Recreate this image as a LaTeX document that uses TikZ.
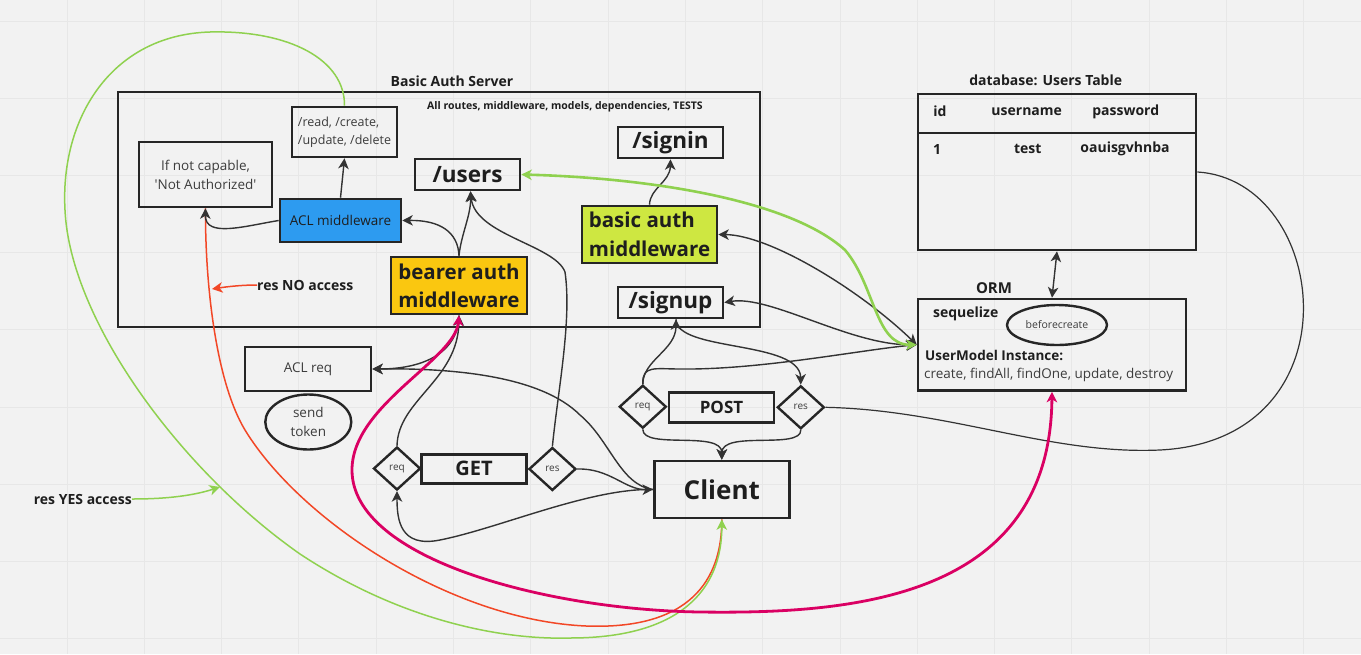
\documentclass[tikz,border=0pt]{standalone}
\usepackage{fontspec}
\setmainfont{Open Sans}
\usetikzlibrary{arrows.meta,shapes.geometric}
\definecolor{bg}{HTML}{F2F2F2}
\definecolor{gridc}{HTML}{E7E7E7}
\definecolor{bdr}{HTML}{262626}
\definecolor{lnc}{HTML}{333333}
\definecolor{txtb}{HTML}{1E1E1E}
\definecolor{txtn}{HTML}{3C3C3C}
\definecolor{aclblue}{HTML}{2D9BF0}
\definecolor{bearery}{HTML}{FAC710}
\definecolor{basicg}{HTML}{CEE741}
\definecolor{mgreen}{HTML}{8FD14F}
\definecolor{mred}{HTML}{F24726}
\definecolor{mmag}{HTML}{DA0063}
\newcommand\myfs[2]{\fontsize{#1}{#2}\selectfont}
\tikzset{
  box/.style={draw=bdr, line width=2.6pt, inner sep=0pt, text=txtn},
  diam/.style={diamond, draw=bdr, line width=2.4pt, inner sep=0pt, minimum width=47pt, minimum height=43pt, text=txtn, font=\myfs{10}{12}},
  lbl/.style={inner sep=0pt, text=txtb, font=\myfs{14}{17}\bfseries},
  conn/.style={draw=lnc, line width=1.4pt},
  gconn/.style={draw=mgreen, line width=1.5pt},
  gthick/.style={draw=mgreen, line width=2.6pt},
  rconn/.style={draw=mred, line width=1.5pt},
  mconn/.style={draw=mmag, line width=2.8pt},
}
\begin{document}
\begin{tikzpicture}[x=1pt,y=-1pt,>={Stealth[length=10.5pt,width=10.5pt,inset=3pt]}]
\useasboundingbox (0,0) rectangle (1361,654);
\fill[bg] (0,0) rectangle (1361,654);
\foreach \i in {0,...,16} \draw[gridc, line width=1pt] ({67+77.3*\i},0) -- ({67+77.3*\i},654);
\foreach \j in {0,...,8} \draw[gridc, line width=1pt] (0,{21+77.2*\j}) -- (1361,{21+77.2*\j});

% server
\node[box, minimum width=642pt, minimum height=235pt] (server) at (439,209.5) {};
\node[lbl] (servert) at (452,81) {Basic Auth Server};
\node[lbl, font=\myfs{10.5}{12}\bfseries] (allr) at (565,107) {All routes, middleware, models, dependencies, TESTS};
\node[box, minimum width=105pt, minimum height=50pt, align=left, font=\myfs{12.5}{18}] (readbox) at (344.5,132) {\makebox[93pt][l]{/read, /create,}\\/update, /delete};
\node[box, minimum width=133pt, minimum height=65pt, align=center, font=\myfs{13.5}{19}] (notcap) at (205.5,174.5) {If not capable,\\\textquotesingle Not Authorized\textquotesingle};
\node[box, fill=aclblue, minimum width=121pt, minimum height=43pt, font=\myfs{13.5}{16}, text=txtb] (acl) at (340.5,220.5) {ACL middleware};
\node[box, minimum width=105pt, minimum height=31pt, font=\myfs{22.5}{26}\bfseries, text=txtb] (users) at (467.5,174.5) {/users};
\node[box, minimum width=105pt, minimum height=31pt, font=\myfs{22.5}{26}\bfseries, text=txtb] (signin) at (670.5,142.5) {/signin};
\node[box, fill=basicg, minimum width=135pt, minimum height=57pt, align=left, font=\myfs{20.5}{29}\bfseries, text=txtb] (basic) at (649.5,234.5) {basic auth\\middleware};
\node[box, fill=bearery, minimum width=136pt, minimum height=57pt, align=left, font=\myfs{20.5}{28}\bfseries, text=txtb] (bearer) at (459,285.5) {bearer auth\\middleware};
\node[box, minimum width=105pt, minimum height=31pt, font=\myfs{22.5}{26}\bfseries, text=txtb] (signup) at (670.5,302.5) {/signup};

% lower left
\node[box, minimum width=126pt, minimum height=44pt, font=\myfs{13.5}{16}] (aclreq) at (308,369) {ACL req};
\node[ellipse, draw=bdr, line width=2.4pt, minimum width=86pt, minimum height=55pt, inner sep=0pt, align=center, font=\myfs{13.5}{19}, text=txtn] (token) at (308.3,422) {send\\token};

% GET / POST / Client
\node[diam] (greq) at (397,468.5) {req};
\node[box, minimum width=105pt, minimum height=29pt, font=\myfs{20}{22}\bfseries, text=txtb] (get) at (474,468.7) {GET};
\node[diam] (gres) at (552.4,469) {res};
\node[diam] (preq) at (642.8,406.7) {req};
\node[box, minimum width=105pt, minimum height=30pt, font=\myfs{17}{20}\bfseries, text=txtb] (post) at (721.5,407.7) {POST};
\node[diam] (pres) at (800.8,407.3) {res};
\node[box, minimum width=135pt, minimum height=57pt, font=\myfs{26}{30}\bfseries, text=txtb] (client) at (721.8,489.5) {Client};

% database
\node[box, minimum width=278pt, minimum height=156pt] (db) at (1057,172) {};
\node[lbl] (dbt) at (1045.7,80.7) {database: Users Table};
\draw[draw=bdr, line width=1.6pt] (918,133) -- (1196,133);
\node[lbl] (hid) at (940,111.7) {id};
\node[lbl] (huser) at (1026.7,111.7) {username};
\node[lbl] (hpass) at (1125.7,111.7) {password};
\node[lbl] (rid) at (937,149.3) {1};
\node[lbl] (ruser) at (1027.7,149.3) {test};
\node[lbl] (rpass) at (1125,149.3) {oauisgvhnba};

% ORM
\node[lbl, font=\myfs{15}{18}\bfseries] (ormt) at (994,287.7) {ORM};
\node[box, minimum width=268pt, minimum height=91.5pt] (orm) at (1052,344.75) {};
\node[lbl] (seq) at (965.7,314) {sequelize};
\node[ellipse, draw=bdr, line width=2.4pt, minimum width=100pt, minimum height=40pt, inner sep=0pt, font=\myfs{10.5}{12}, text=txtn] (bc) at (1057,325) {beforecreate};
\node[lbl, anchor=west, font=\myfs{13.5}{16}\bfseries] (umi) at (925,355) {UserModel Instance:};
\node[lbl, anchor=west, font=\myfs{13.5}{16}, text=txtn] (meth) at (924,375) {create, findAll, findOne, update, destroy};

% labels with arrows
\node[lbl, anchor=west] (nolbl) at (257,285) {res NO access};
\node[lbl, anchor=east] (yeslbl) at (132,499) {res YES access};
\coordinate (tipno) at (212,289);
\coordinate (tipyes) at (220,487);

% ---- connectors ----
\draw[rconn] (client.south) .. controls (722,580) and (690,630) .. (586,626) .. controls (450,620) and (300,520) .. (245,430) .. controls (215,380) and (205,280) .. (notcap.south);
\draw[rconn,->] (nolbl.west) .. controls (240,285) and (225,287) .. (tipno);
\draw[gconn,->] (readbox.north) .. controls (345,60) and (290,30) .. (210,32) .. controls (110,35) and (60,120) .. (65,210) .. controls (70,320) and (180,470) .. (300,554) .. controls (400,620) and (500,640) .. (570,638) .. controls (680,638) and (722,590) .. (client.south);
\draw[gconn,->] (yeslbl.east) .. controls (170,499) and (195,495) .. (tipyes);

\draw[conn,->] (acl.north) -- (readbox.south);
\draw[conn,->] (acl.west) .. controls (245,226) and (205,238) .. (notcap.south);
\draw[conn,->] (bearer.north) .. controls (458,232) and (440,220) .. (acl.east);
\draw[conn,->] (bearer.north) .. controls (461,235) and (471,215) .. ([xshift=3pt]users.south);
\draw[conn,->] (gres.north) .. controls (558,390) and (572,320) .. (565,272) .. controls (555,245) and (475,235) .. ([xshift=3pt]users.south);
\draw[conn,->] (basic.north) .. controls (650,188) and (670,182) .. (signin.south);
\draw[conn,<->] (basic.east) .. controls (770,235) and (860,290) .. (orm.west);
\draw[conn,<->] (signup.east) .. controls (770,295) and (850,345) .. (orm.west);
\draw[conn,->] (preq.north) .. controls (643,360) and (676,350) .. ([xshift=5.5pt]signup.south);
\draw[conn,->] ([xshift=5.5pt]signup.south) .. controls (676,352) and (800,340) .. (pres.north);
\draw[conn,->] (preq.north) .. controls (642,365) and (655,369) .. (680,369) .. controls (760,370) and (860,350) .. (orm.west);
\draw[conn,->] (bearer.south) .. controls (458,355) and (420,369) .. (aclreq.east);
\draw[conn,->] (greq.north) .. controls (398,400) and (458,380) .. (bearer.south);
\draw[conn,->] (client.west) .. controls (620,485) and (610,440) .. (580,415) .. controls (540,375) and (450,368) .. (aclreq.east);
\draw[conn,->] (gres.east) .. controls (610,468) and (625,490) .. (client.west);
\draw[conn,->] (client.west) .. controls (590,488) and (500,528) .. (440,540) .. controls (400,548) and (397,520) .. (greq.south);
\draw[conn,->] (preq.south) .. controls (643,450) and (722,430) .. (client.north);
\draw[conn,->] (pres.south) .. controls (801,450) and (722,430) .. (client.north);
\draw[conn, line width=1.2pt] (pres.east) .. controls (950,410) and (1050,455) .. (1160,450) .. controls (1360,440) and (1330,180) .. (db.east);
\draw[conn,<->] (db.south) -- (orm.north);

\draw[gthick,<->] (users.east) .. controls (650,178) and (790,200) .. (845,250) .. controls (875,285) and (875,345) .. (orm.west);
\draw[mconn,<->] (bearer.south) .. controls (455,360) and (352,405) .. (352,470) .. controls (352,560) and (550,610) .. (700,612) .. controls (850,614) and (1050,600) .. (orm.south);
\end{tikzpicture}
\end{document}
